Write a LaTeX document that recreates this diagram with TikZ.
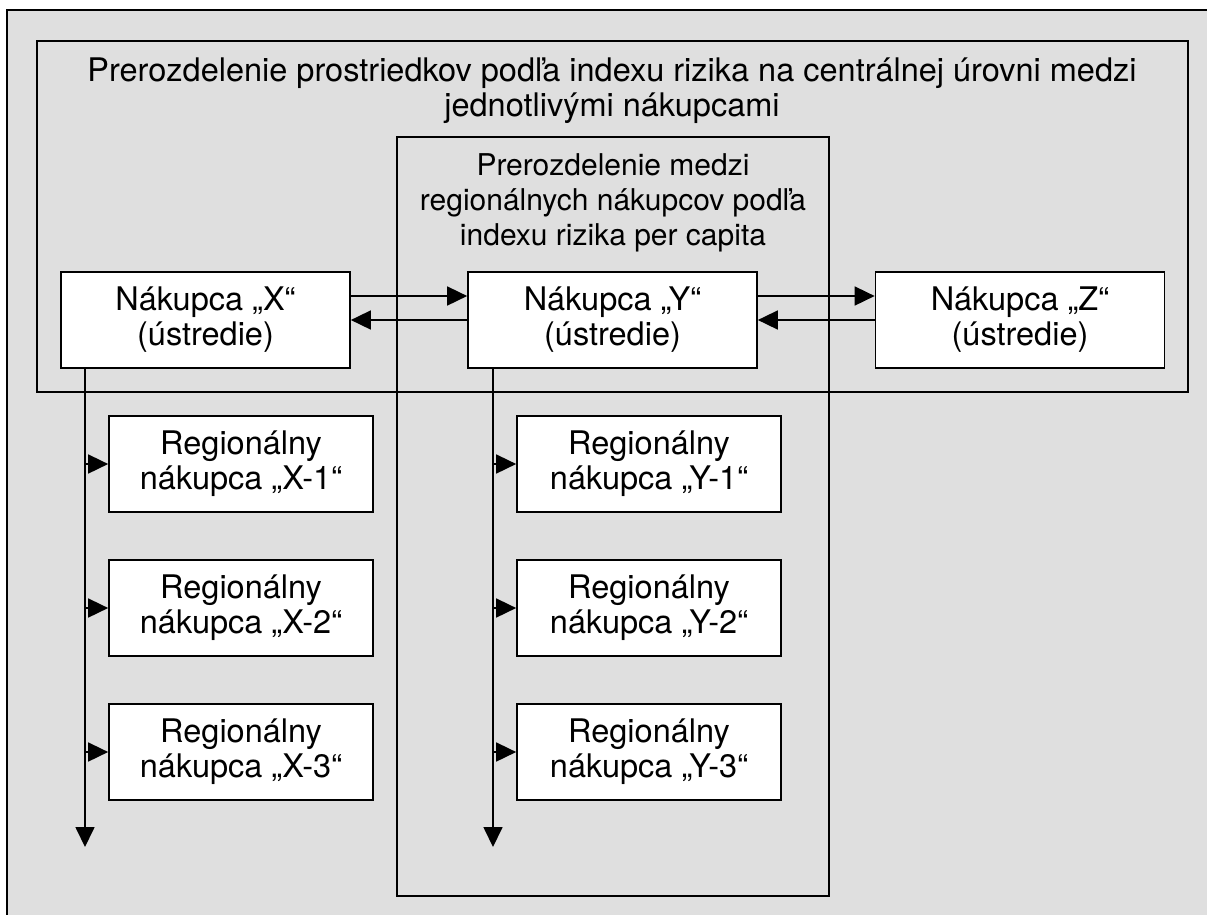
\documentclass[tikz,border=0pt]{standalone}
\usepackage{fontspec}
\setmainfont{TeX Gyre Heros}
\usetikzlibrary{arrows.meta}
\definecolor{bggray}{RGB}{223,223,223}
\tikzset{
  frame/.style={draw=black, line width=1.7pt, fill=none, inner sep=0pt},
  box/.style={draw=black, line width=1.7pt, fill=white, inner sep=0pt, align=center,
              font=\fontsize{32.5}{35}\selectfont},
  headbox/.style={box, minimum width=289pt, minimum height=96pt},
  regbox/.style={box, minimum width=264pt, minimum height=96pt},
  lbl/.style={inner sep=0pt, align=center},
  conn/.style={line width=1.7pt, -{Triangle[length=20pt,width=19pt]}},
  plain/.style={line width=1.7pt}
}
\begin{document}
\begin{tikzpicture}[x=1pt,y=-1pt]
\useasboundingbox (0,0) rectangle (1207,914);
\clip (0,0) rectangle (1207,914);
% outer background
\draw[line width=1.7pt, fill=bggray] (7,10) rectangle (1240,950);
% frames
\node[frame, minimum width=1151pt, minimum height=351pt] (central) at (612.5,216.5) {};
\node[frame, minimum width=432pt, minimum height=759pt] (regional) at (613,516.5) {};
% frame labels
\node[lbl, font=\fontsize{32.5}{35}\selectfont] (ctitle) at (612,91)
  {Prerozdelenie prostriedkov podľa indexu rizika na centrálnej úrovni medzi\\jednotlivými nákupcami};
\node[lbl, font=\fontsize{30}{35}\selectfont] (rtitle) at (613,203)
  {Prerozdelenie medzi\\regionálnych nákupcov podľa\\indexu rizika per capita};
% vertical trunk end points
\coordinate (xend) at (85,847);
\coordinate (yend) at (493,847);
% head buyers
\node[headbox] (X) at (205.5,320) {Nákupca „X“\\(ústredie)};
\node[headbox] (Y) at (612.5,320) {Nákupca „Y“\\(ústredie)};
\node[headbox] (Z) at (1020,320) {Nákupca „Z“\\(ústredie)};
% regional buyers
\node[regbox] (X1) at (241,464) {Regionálny\\nákupca „X-1“};
\node[regbox] (X2) at (241,608) {Regionálny\\nákupca „X-2“};
\node[regbox] (X3) at (241,752) {Regionálny\\nákupca „X-3“};
\node[regbox] (Y1) at (649,464) {Regionálny\\nákupca „Y-1“};
\node[regbox] (Y2) at (649,608) {Regionálny\\nákupca „Y-2“};
\node[regbox] (Y3) at (649,752) {Regionálny\\nákupca „Y-3“};
% horizontal exchanges
\draw[conn] ([yshift=24pt]X.east) -- ([yshift=24pt]Y.west);
\draw[conn] (Y.west) -- (X.east);
\draw[conn] ([yshift=24pt]Y.east) -- ([yshift=24pt]Z.west);
\draw[conn] (Z.west) -- (Y.east);
% trunks
\draw[conn] (X.south -| xend) -- (xend);
\draw[conn] (Y.south -| yend) -- (yend);
% branches
\draw[conn] (xend |- X1.west) -- (X1.west);
\draw[conn] (xend |- X2.west) -- (X2.west);
\draw[conn] (xend |- X3.west) -- (X3.west);
\draw[conn] (yend |- Y1.west) -- (Y1.west);
\draw[conn] (yend |- Y2.west) -- (Y2.west);
\draw[conn] (yend |- Y3.west) -- (Y3.west);
\end{tikzpicture}
\end{document}
